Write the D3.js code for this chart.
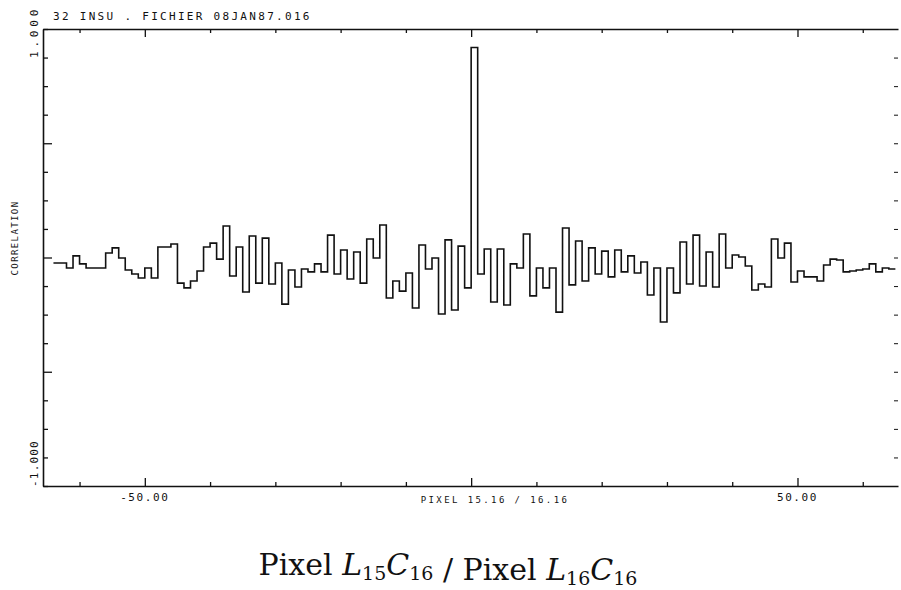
<!DOCTYPE html>
<html>
<head>
<meta charset="utf-8">
<script src="https://d3js.org/d3.v7.min.js"></script>
<style>
    body { margin: 0; background: #fff; }
    .plotter { font-family: "DejaVu Sans Mono", monospace; fill: #111; }
</style>
</head>
<body>
<svg id="chart" width="901" height="590"></svg>
<script>

// correlation value for each lag, starting at firstLag (one step per lag)
var firstLag = -64;
var correlation = [
    -0.024, -0.024, -0.046, 0.007, -0.028, -0.046, -0.046, -0.046,   // -64 .. -57
    0.020, 0.042, -0.002, -0.055, -0.072, -0.090, -0.046, -0.090,    // -56 .. -49
    0.046, 0.046, 0.059, -0.112, -0.133, -0.103, -0.059, 0.046,      // -48 .. -41
    0.063, -0.007, 0.138, -0.081, 0.046, -0.151, 0.094, -0.112,      // -40 .. -33
    0.085, -0.116, -0.024, -0.204, -0.055, -0.129, -0.050, -0.063,   // -32 .. -25
    -0.028, -0.063, 0.098, -0.072, 0.033, -0.094, 0.024, -0.112,     // -24 .. -17
    0.081, -0.002, 0.142, -0.177, -0.103, -0.147, -0.068, -0.221,    // -16 .. -9
    0.055, -0.050, -0.002, -0.247, 0.077, -0.230, 0.050, -0.133,     // -8 .. -1
    0.919,                                                          // 0
    -0.072, 0.037, -0.195, 0.037, -0.208, -0.028, -0.046, 0.103,     // 1 .. 8
    -0.168, -0.046, -0.133, -0.046, -0.239, 0.129, -0.120, 0.072,    // 9 .. 16
    -0.103, 0.042, -0.072, 0.028, -0.085, 0.033, -0.063, 0.007,      // 17 .. 24
    -0.068, -0.020, -0.164, -0.046, -0.282, -0.046, -0.155, 0.068,   // 25 .. 32
    -0.116, 0.098, -0.125, 0.024, -0.129, 0.103, -0.046, 0.011,      // 33 .. 40
    0.002, -0.037, -0.142, -0.116, -0.129, 0.081, -0.002, 0.063,     // 41 .. 48
    -0.107, -0.059, -0.085, -0.085, -0.103, -0.033, -0.007, -0.011,  // 49 .. 56
    -0.063, -0.059, -0.055, -0.050, -0.028, -0.063, -0.046, -0.050   // 57 .. 64
];

// axis ticks
var xTicks = [-60, -50, -40, -30, -20, -10, 0, 10, 20, 30, 40, 50, 60];
var xMajorTicks = [-50, 0, 50];
var xTickLabels = [[-50, "-50.00"], [50, "50.00"]];

var yTicks = [-1, -0.875, -0.75, -0.625, -0.5, -0.375, -0.25, -0.125, 0,
              0.125, 0.25, 0.375, 0.5, 0.625, 0.75, 0.875, 1];
var yMajorTicks = [-0.5, 0, 0.5];

// texts
var headerText = "32 INSU . FICHIER 08JAN87.016";
var yTitle = "CORRELATION";
var yTopLabel = "1.000";
var yBottomLabel = "-1.000";
var xTitle = "PIXEL 15.16 / 16.16";


var svg = d3.select("#chart");

// frame of the plot (don't name these top/left: window.top is read-only)
var frameL = 43, frameR = 898, frameT = 29, frameB = 486;

var x = d3.scaleLinear().domain([-65.6, 65.4]).range([frameL, frameR]);
var y = d3.scaleLinear().domain([-1, 1]).range([frameB, frameT]);

var ink = "#111";

// --- axes (ticks point into the frame) ---

var bottomAxis = svg.append("g")
    .attr("transform", "translate(0," + frameB + ")")
    .call(d3.axisBottom(x).tickValues(xTicks).tickSizeInner(-4).tickSizeOuter(0).tickFormat(""));

var topAxis = svg.append("g")
    .attr("transform", "translate(0," + frameT + ")")
    .call(d3.axisTop(x).tickValues(xTicks).tickSizeInner(-4).tickSizeOuter(0).tickFormat(""));

var leftAxis = svg.append("g")
    .attr("transform", "translate(" + frameL + ",0)")
    .call(d3.axisLeft(y).tickValues(yTicks).tickSizeInner(-5).tickSizeOuter(0).tickFormat(""));

// right side: only tick marks are left on the scan
var rightAxis = svg.append("g")
    .attr("transform", "translate(" + frameR + ",0)")
    .call(d3.axisRight(y).tickValues(yTicks.slice(1, -1)).tickSizeInner(-4).tickSizeOuter(0).tickFormat(""));
rightAxis.select(".domain").remove();

[bottomAxis, topAxis, leftAxis].forEach(function (g) {
    g.select(".domain").attr("stroke", ink).attr("stroke-width", 1.6);
    g.selectAll(".tick line").attr("stroke", ink).attr("stroke-width", 1.3);
});
rightAxis.selectAll(".tick line").attr("stroke", ink).attr("stroke-width", 1);

// longer marks for the major ticks
bottomAxis.selectAll(".tick line")
    .filter(function (d) { return xMajorTicks.indexOf(d) >= 0; })
    .attr("y2", -8);
topAxis.selectAll(".tick line")
    .filter(function (d) { return xMajorTicks.indexOf(d) >= 0; })
    .attr("y2", 8);
leftAxis.selectAll(".tick line")
    .filter(function (d) { return yMajorTicks.indexOf(d) >= 0; })
    .attr("x2", 9);

// --- step curve ---

var points = correlation.map(function (v, i) { return [firstLag + i, v]; });
// close the last step
points.push([firstLag + correlation.length, correlation[correlation.length - 1]]);

var line = d3.line()
    .x(function (d) { return x(d[0]); })
    .y(function (d) { return y(d[1]); })
    .curve(d3.curveStepAfter);

svg.append("path")
    .datum(points)
    .attr("d", line)
    .attr("fill", "none")
    .attr("stroke", ink)
    .attr("stroke-width", 1.6)
    .attr("stroke-linejoin", "miter");

// --- plotter texts ---

svg.append("text")
    .attr("class", "plotter")
    .attr("x", 53).attr("y", 20)
    .attr("font-size", 11)
    .attr("letter-spacing", 2.3)
    .text(headerText);

xTickLabels.forEach(function (t) {
    svg.append("text")
        .attr("class", "plotter")
        .attr("x", x(t[0])).attr("y", 501)
        .attr("text-anchor", "middle")
        .attr("font-size", 11)
        .attr("letter-spacing", 1.6)
        .text(t[1]);
});

svg.append("text")
    .attr("class", "plotter")
    .attr("x", 495).attr("y", 503)
    .attr("text-anchor", "middle")
    .attr("font-size", 9)
    .attr("letter-spacing", 2.4)
    .text(xTitle);

svg.append("text")
    .attr("class", "plotter")
    .attr("transform", "translate(18," + 238 + ") rotate(-90)")
    .attr("text-anchor", "middle")
    .attr("font-size", 9)
    .attr("letter-spacing", 1.4)
    .text(yTitle);

svg.append("text")
    .attr("class", "plotter")
    .attr("transform", "translate(38,58) rotate(-90)")
    .attr("font-size", 11)
    .attr("letter-spacing", 3.8)
    .text(yTopLabel);

svg.append("text")
    .attr("class", "plotter")
    .attr("transform", "translate(38,487) rotate(-90)")
    .attr("font-size", 11)
    .attr("letter-spacing", 1.2)
    .text(yBottomLabel);

// --- caption under the figure ---

var caption = svg.append("text")
    .attr("x", 448).attr("y", 575)
    .attr("text-anchor", "middle")
    .attr("font-family", "'DejaVu Serif', 'Liberation Serif', serif")
    .attr("font-size", 30)
    .attr("fill", "#111");

function addPixel(el, lineNo, colNo) {
    el.append("tspan").text("Pixel\u00a0");
    el.append("tspan").attr("font-style", "italic").text("L");
    el.append("tspan").attr("font-size", 19).attr("dy", 5).text(lineNo);
    el.append("tspan").attr("font-style", "italic").attr("dy", -5).text("C");
    el.append("tspan").attr("font-size", 19).attr("dy", 5).text(colNo);
    el.append("tspan").attr("dy", -5).text("");
}

addPixel(caption, "15", "16");
caption.append("tspan").text("\u00a0/\u00a0");
addPixel(caption, "16", "16");

</script>
</body>
</html>
